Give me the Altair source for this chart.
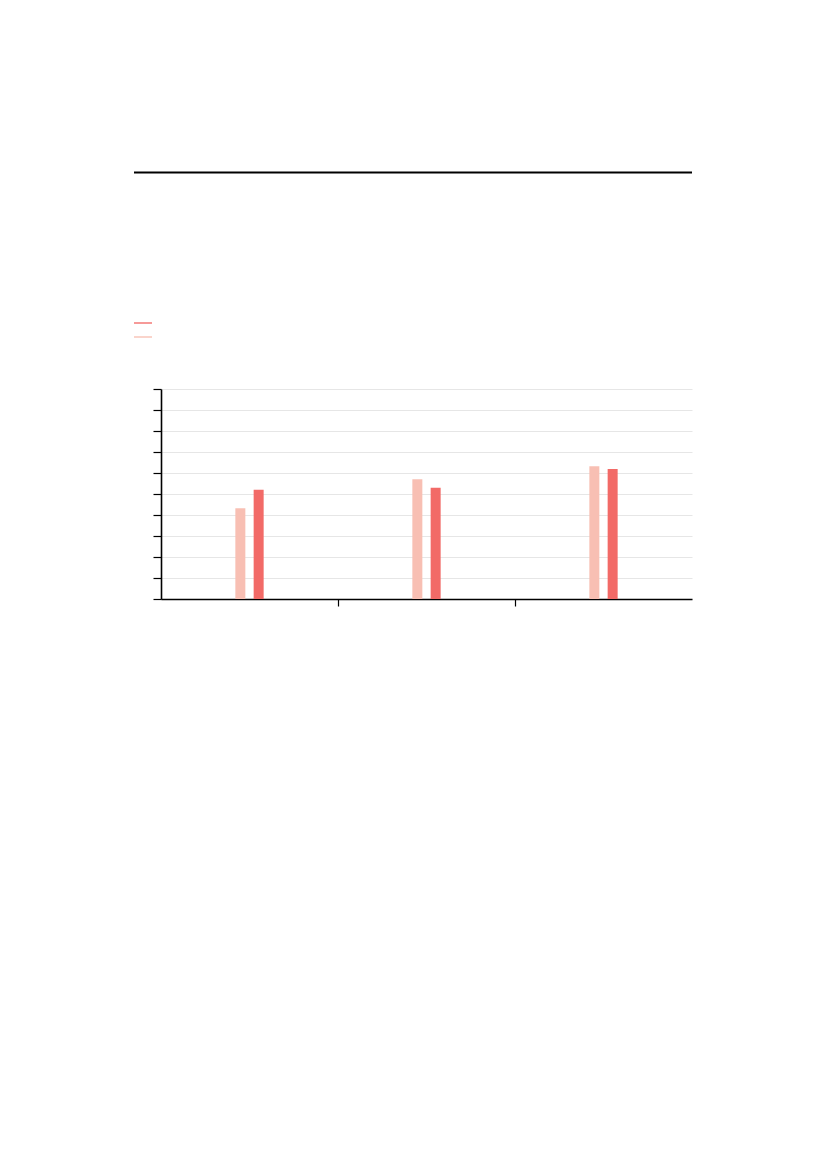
import altair as alt
import pandas as pd

groups = ["Group 1", "Group 2", "Group 3"]
series = ["Series A", "Series B"]
series_a = [43.2, 57.0, 63.2]
series_b = [52.0, 53.0, 61.9]
y_ticks = [0, 10, 20, 30, 40, 50, 60, 70, 80, 90, 100]

rows = []
for g, a, b in zip(groups, series_a, series_b):
    rows.append({"group": g, "series": series[0], "value": a})
    rows.append({"group": g, "series": series[1], "value": b})
df = pd.DataFrame(rows)

LIGHT = "#F8BFB3"
DARK = "#F26A67"
color_scale = alt.Scale(domain=[series[1], series[0]], range=[DARK, LIGHT])

bars = alt.Chart(df).mark_bar().encode(
    x=alt.X("group:N", sort=groups,
            scale=alt.Scale(paddingInner=0, paddingOuter=0),
            axis=alt.Axis(title=None, labels=False, grid=False, tickBand="extent",
                          domainColor="black", domainWidth=1.6,
                          tickColor="black", tickWidth=1.2, tickSize=7,
                          tickOpacity={"condition": {"test": "datum.value == 'Group 1' || datum.value == 'Group 2'", "value": 1}, "value": 0})),
    xOffset=alt.XOffset("series:N", sort=series,
                        scale=alt.Scale(range=[74.35, 102.65], paddingInner=0.4536, paddingOuter=0)),
    y=alt.Y("value:Q", scale=alt.Scale(domain=[0, 100], nice=False),
            axis=alt.Axis(title=None, labels=False, values=y_ticks,
                          domainColor="black", domainWidth=1.6,
                          tickColor="black", tickWidth=1.2, tickSize=8,
                          grid=True, gridColor="#E6E6E6", gridWidth=1)),
    color=alt.Color("series:N", scale=color_scale,
                    legend=alt.Legend(title=None, orient="none", legendX=-27, legendY=-75,
                                      direction="vertical",
                                      symbolType="M-1,-0.075H1V0.075H-1Z",
                                      symbolSize=324, symbolStrokeWidth=0,
                                      labelExpr="''", labelFontSize=10, rowPadding=0,
                                      padding=0, offset=0)),
)

rule = alt.Chart(alt.Data(values=[{}])).mark_rule(color="black", strokeWidth=1.8).encode(
    x=alt.value(-27), x2=alt.value(531), y=alt.value(-216.5)
)

chart = alt.layer(bars, rule).properties(
    width=531, height=210,
    autosize=alt.AutoSizeParams(type="none"),
    padding={"left": 153, "top": 381, "right": 40, "bottom": 60},
).configure_view(strokeWidth=0)

chart.save("out.html", embed_options={"renderer": "svg", "actions": False})
